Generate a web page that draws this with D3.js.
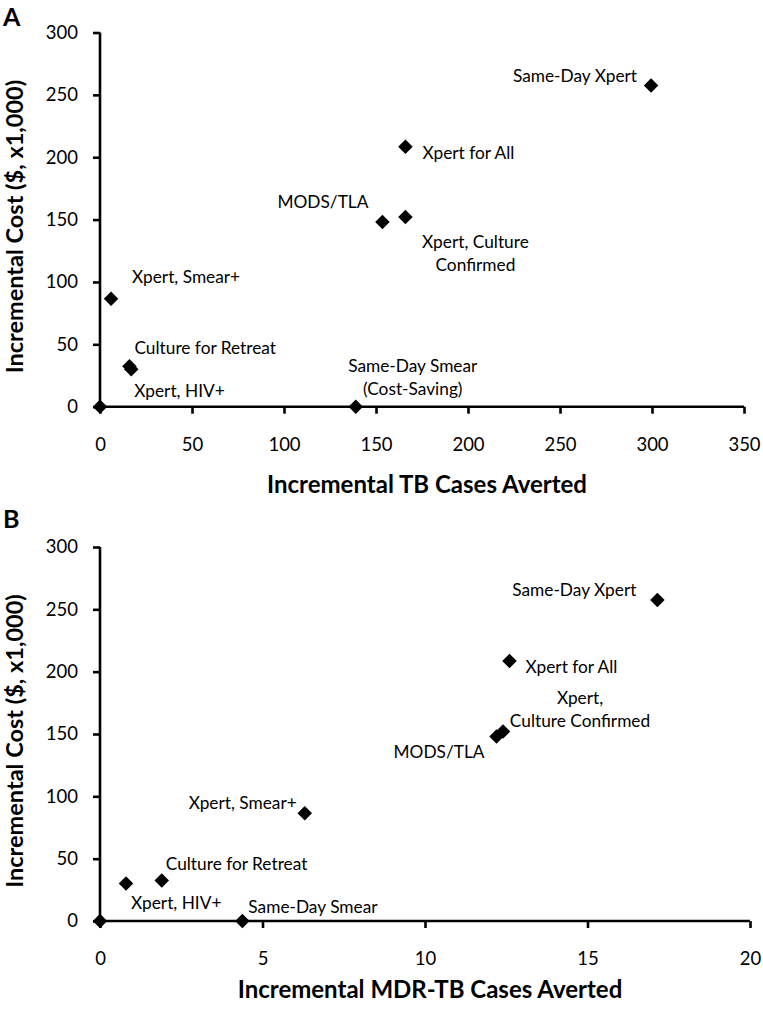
<!DOCTYPE html>
<html>
<head>
<meta charset="utf-8">
<script src="https://cdn.jsdelivr.net/npm/d3@7"></script>
<style>
  html, body { margin: 0; padding: 0; background: #fff; }
  svg { display: block; }
  text { font-family: Lato, "Open Sans", sans-serif; fill: #000; }
</style>
</head>
<body>
<svg id="chart" width="763" height="1014"></svg>
<script>
// ---------- DATA ----------
const strategies = ["Status Quo", "Same-Day Smear", "Xpert, HIV+", "Culture for Retreat",
  "Xpert, Smear+", "MODS/TLA", "Xpert, Culture Confirmed", "Xpert for All", "Same-Day Xpert"];
const incrementalCost = [0, 0, 30, 32.5, 86.5, 148, 152, 208.5, 257.5];     // $ x1,000
const tbCasesAverted  = [0, 139, 17, 16, 6, 153.5, 166, 166, 299.5];
const mdrCasesAverted = [0, 4.38, 0.8, 1.9, 6.3, 12.2, 12.4, 12.6, 17.15];

const costTicks = [0, 50, 100, 150, 200, 250, 300];
const tbTicks   = [0, 50, 100, 150, 200, 250, 300, 350];
const mdrTicks  = [0, 5, 10, 15, 20];

// label text lines per strategy, per panel
const labelsA = [[], ["Same-Day Smear", "(Cost-Saving)"], ["Xpert, HIV+"], ["Culture for Retreat"],
  ["Xpert, Smear+"], ["MODS/TLA"], ["Xpert, Culture", "Confirmed"], ["Xpert for All"], ["Same-Day Xpert"]];
const labelsB = [[], ["Same-Day Smear"], ["Xpert, HIV+"], ["Culture for Retreat"],
  ["Xpert, Smear+"], ["MODS/TLA"], ["Xpert,", "Culture Confirmed"], ["Xpert for All"], ["Same-Day Xpert"]];

// ---------- LAYOUT (label placement, px offsets from the marker) ----------
const placeA = [null,
  {dx: 57, dy: -35, a: "middle"}, {dx: 3, dy: 28, a: "start"}, {dx: 5, dy: -12, a: "start"},
  {dx: 21, dy: -16, a: "start"}, {dx: -14, dy: -14, a: "end"}, {dx: 70, dy: 31, a: "middle"},
  {dx: 17, dy: 12, a: "start"}, {dx: -14, dy: -4, a: "end"}];
const placeB = [null,
  {dx: 6, dy: -8, a: "start"}, {dx: 5, dy: 25, a: "start"}, {dx: 4, dy: -10, a: "start"},
  {dx: -8, dy: -4, a: "end"}, {dx: -12, dy: 22, a: "end"}, {dx: 77, dy: -28, a: "middle"},
  {dx: 16, dy: 12, a: "start"}, {dx: -21, dy: -4, a: "end"}];

const svg = d3.select("#chart");

function panel(cfg) {
  const x = d3.scaleLinear().domain(cfg.xDomain).range(cfg.xRange);
  const y = d3.scaleLinear().domain([0, 300]).range(cfg.yRange);
  const g = svg.append("g");

  // y axis
  const ya = g.append("g").attr("transform", `translate(${cfg.xRange[0]},0)`)
    .call(d3.axisLeft(y).tickValues(costTicks).tickSize(7).tickPadding(15).tickFormat(d3.format("d")));
  // x axis
  const xa = g.append("g").attr("transform", `translate(0,${cfg.yRange[0]})`)
    .call(d3.axisBottom(x).tickValues(cfg.xTicks).tickSize(7).tickPadding(24).tickFormat(d3.format("d")));
  [ya, xa].forEach(a => {
    a.select(".domain").attr("stroke", "#000").attr("stroke-width", 2.6);
    a.selectAll(".tick line").attr("stroke", "#000").attr("stroke-width", 2.6);
    a.selectAll(".tick text").attr("font-size", 18.5).attr("font-family", "Lato, sans-serif").attr("fill", "#000");
  });
  ya.select(".domain").attr("d", `M0,${cfg.yRange[0]}V${cfg.yRange[1]}`);
  xa.select(".domain").attr("d", `M${cfg.xRange[0]},0H${cfg.xRange[1]}`);

  // axis titles
  g.append("text")
    .attr("x", (cfg.xRange[0] + cfg.xRange[1]) / 2 + 5).attr("y", cfg.xTitleY)
    .attr("text-anchor", "middle").attr("font-weight", "bold").attr("font-size", 24)
    .text(cfg.xTitle);
  g.append("text")
    .attr("transform", `translate(23,${(cfg.yRange[0] + cfg.yRange[1]) / 2 + 7}) rotate(-90)`)
    .attr("text-anchor", "middle").attr("font-weight", "bold").attr("font-size", 23.5)
    .text("Incremental Cost ($, x1,000)");
  // panel letter
  g.append("text").attr("x", 3).attr("y", cfg.letterY)
    .attr("font-weight", "bold").attr("font-size", 25).text(cfg.letter);

  const idx = d3.range(strategies.length);
  // markers
  g.selectAll("path.pt").data(idx).join("path").attr("class", "pt")
    .attr("d", d3.symbol(d3.symbolSquare, 105))
    .attr("transform", i => `translate(${x(cfg.xs[i])},${y(incrementalCost[i])}) rotate(45)`)
    .attr("fill", "#000");

  // labels
  idx.forEach(i => {
    const p = cfg.place[i];
    if (!p) return;
    const t = g.append("text")
      .attr("x", x(cfg.xs[i]) + p.dx).attr("y", y(incrementalCost[i]) + p.dy)
      .attr("text-anchor", p.a).attr("font-size", 17.3);
    cfg.labels[i].forEach((line, k) => {
      t.append("tspan").attr("x", x(cfg.xs[i]) + p.dx).attr("dy", k === 0 ? 0 : 23).text(line);
    });
  });
}

panel({
  letter: "A", letterY: 25.5,
  xDomain: [0, 350], xRange: [100, 744], yRange: [406.7, 32.5],
  xTicks: tbTicks, xs: tbCasesAverted, xTitle: "Incremental TB Cases Averted", xTitleY: 493,
  labels: labelsA, place: placeA
});
panel({
  letter: "B", letterY: 528,
  xDomain: [0, 20], xRange: [100, 750], yRange: [921, 547],
  xTicks: mdrTicks, xs: mdrCasesAverted, xTitle: "Incremental MDR-TB Cases Averted", xTitleY: 998,
  labels: labelsB, place: placeB
});
</script>
</body>
</html>
